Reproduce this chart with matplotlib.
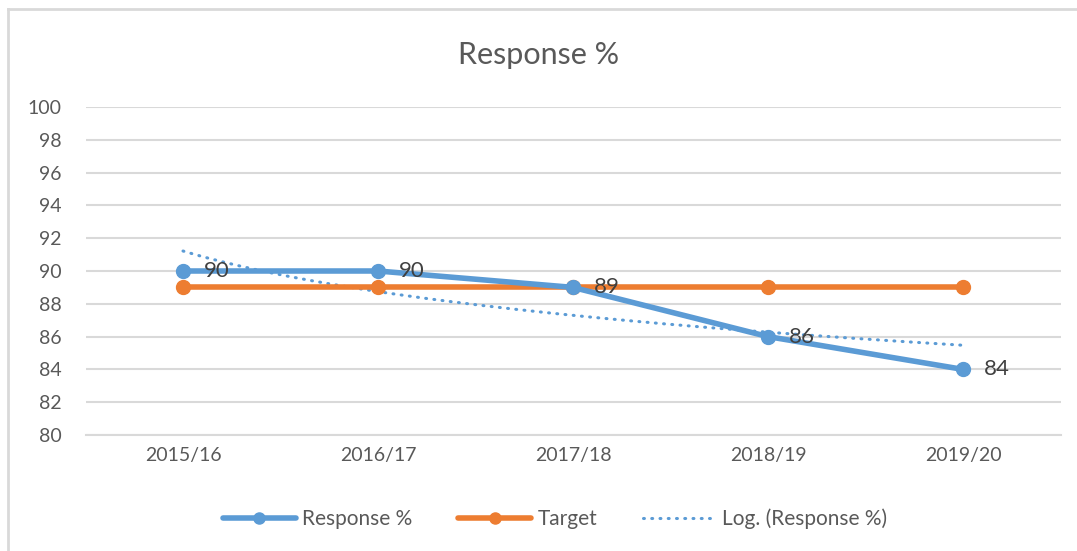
import matplotlib.pyplot as plt
import numpy as np

years = ['2015/16', '2016/17', '2017/18', '2018/19', '2019/20']
response = [90, 90, 89, 86, 84]
target = [89, 89, 89, 89, 89]

plt.rcParams['font.family'] = ['Lato', 'DejaVu Sans']

blue = '#5B9BD5'
orange = '#ED7D31'
txt = '#595959'
grid = '#D9D9D9'

fig = plt.figure(figsize=(10.77, 5.51), dpi=100)
ax = fig.add_axes([85.5 / 1077, 1 - 435 / 551, 975 / 1077, 328 / 551])

x = np.arange(1, len(years) + 1)

# Excel-style log trendline of the response series
b, a = np.polyfit(np.log(x), response, 1)
xt = np.linspace(1, len(years), 200)
ax.plot(xt, a + b * np.log(xt), color=blue, lw=2.2, ls=(0, (0.3, 2.4)),
        dash_capstyle='round', label='Log. (Response %)', zorder=2)

l1, = ax.plot(x, response, color=blue, lw=4, marker='o', ms=10,
              solid_capstyle='round', label='Response %', zorder=4)
l2, = ax.plot(x, target, color=orange, lw=4, marker='o', ms=10,
              solid_capstyle='round', label='Target', zorder=3)

for xi, v in zip(x, response):
    ax.annotate(str(v), (xi, v), xytext=(15, 0), textcoords='offset points',
                va='center', ha='left', fontsize=16, color='#404040', zorder=5)

ax.set_xlim(0.5, len(years) + 0.5)
ax.set_ylim(80, 100)
ax.set_yticks(range(80, 101, 2))
ax.set_xticks(x)
ax.set_xticklabels(years)
ax.tick_params(length=0, labelsize=14, colors=txt, pad=9)
ax.tick_params(axis='y', pad=17)
ax.grid(axis='y', color=grid, lw=1.5)
ax.set_axisbelow(True)
for s in ['top', 'right', 'left']:
    ax.spines[s].set_visible(False)
ax.spines['bottom'].set_color(grid)
ax.spines['bottom'].set_linewidth(1.5)

fig.text(0.5, 1 - 55 / 551, 'Response %', ha='center', va='center',
         fontsize=22, color=txt)

handles, labels = ax.get_legend_handles_labels()
order = [1, 2, 0]
fig.legend([handles[i] for i in order], [labels[i] for i in order],
           loc='center', bbox_to_anchor=(555 / 1077, 1 - 519 / 551), ncol=3,
           frameon=False, fontsize=15, labelcolor=txt, handlelength=3.5,
           columnspacing=2.2, handletextpad=0.3, markerscale=0.8)

# chart border (left and top visible)
fig.add_artist(plt.Line2D([8 / 1077, 8 / 1077], [0, 1 - 9 / 551],
                          transform=fig.transFigure, color=grid, lw=2))
fig.add_artist(plt.Line2D([8 / 1077, 1], [1 - 9 / 551, 1 - 9 / 551],
                          transform=fig.transFigure, color=grid, lw=2))

fig.savefig('out.png', dpi=100)
